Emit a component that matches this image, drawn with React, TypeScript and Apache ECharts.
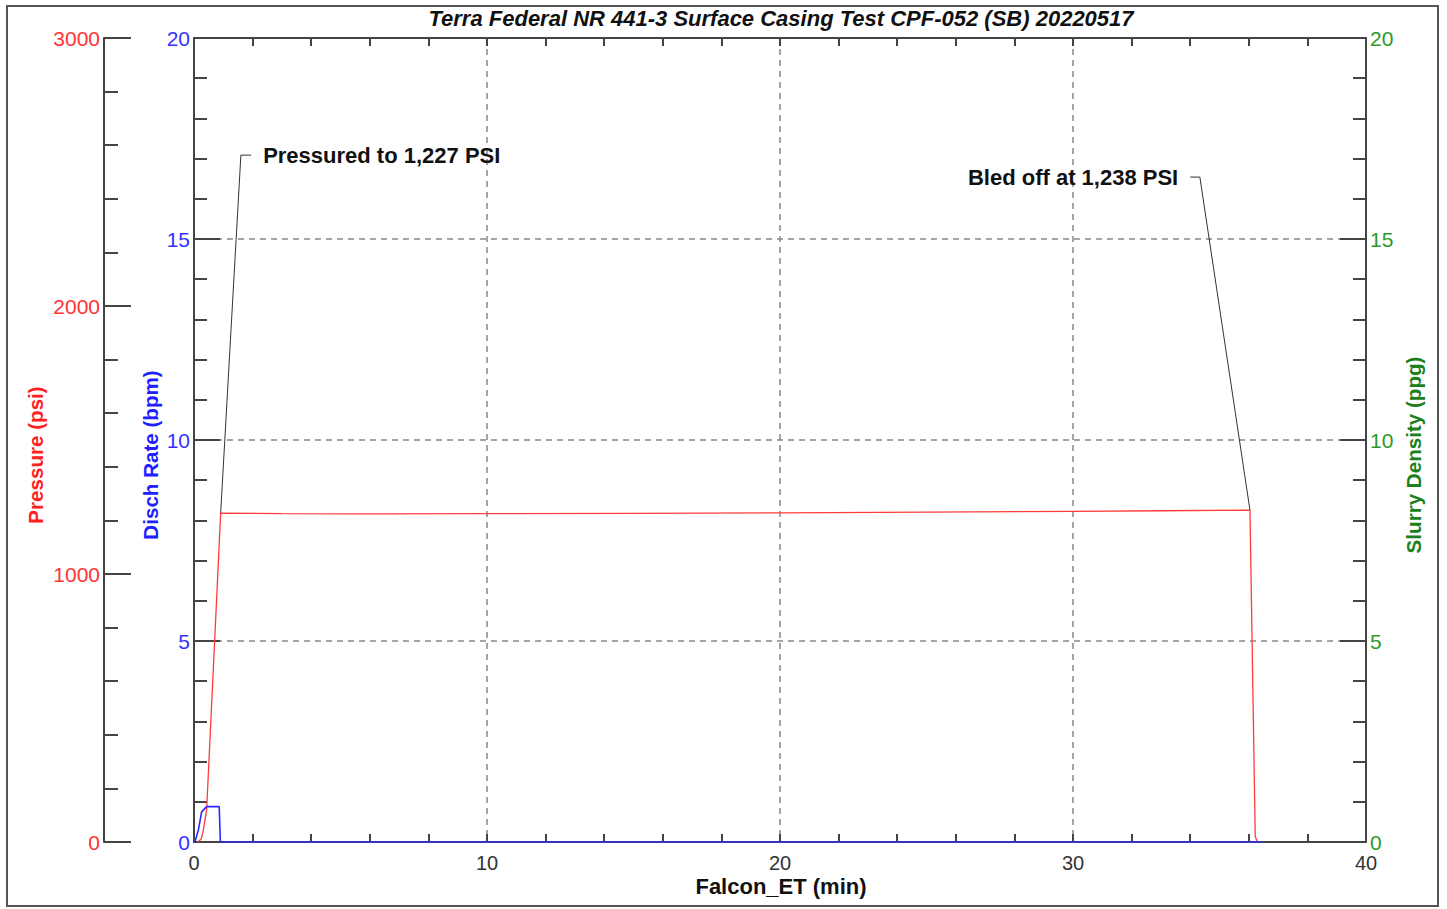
import React, { useEffect, useRef } from "react";
import * as echarts from "echarts";

const TITLE = "Terra Federal NR 441-3 Surface Casing Test CPF-052 (SB) 20220517";
const X_NAME = "Falcon_ET (min)";
const PRESSURE_NAME = "Pressure (psi)";
const RATE_NAME = "Disch Rate (bpm)";
const DENSITY_NAME = "Slurry Density (ppg)";

// Pressure (psi) vs time (min)
const pressureTime = [0.14, 0.25, 0.32, 0.43, 0.65, 0.91, 3, 6, 10, 15, 20, 25, 30, 33, 36.04, 36.22, 36.3];
const pressureValues = [0, 12, 45, 119, 623, 1227, 1225, 1224, 1225, 1226, 1228, 1231, 1234, 1236, 1238, 20, 0];

// Discharge rate (bpm) vs time (min)
const rateTime = [0, 0.03, 0.15, 0.26, 0.43, 0.86, 0.9, 36.45];
const rateValues = [0, 0, 0.3, 0.75, 0.88, 0.88, 0, 0];

// Annotations (pressure axis coordinates)
const annoText = ["Pressured to 1,227 PSI", "Bled off at 1,238 PSI"];
const annoPoint = [[0.91, 1227], [36.04, 1238]];
const annoElbow = [[1.6, 2563], [34.33, 2481]];
const annoEnd = [[1.95, 2563], [34.0, 2481]];
const annoSide = ["left", "right"];

const FONT = 'Arial, "Liberation Sans", sans-serif';
const AXIS_COLOR = "#444";

export default function App() {
  const ref = useRef<HTMLDivElement>(null);
  useEffect(() => {
    if (!ref.current) return;
    const chart = echarts.init(ref.current, null, { renderer: "svg" });

    const tickStyle = (len: number, minorLen: number, inside = true) => ({
      axisLine: { show: true, onZero: false, lineStyle: { color: AXIS_COLOR, width: 2 } },
      axisTick: { show: true, inside, length: len, lineStyle: { color: AXIS_COLOR, width: 2 } },
      minorTick: { show: true, splitNumber: 5, length: minorLen, lineStyle: { color: AXIS_COLOR, width: 2 } },
    });

    const plain = (v: number) => String(v);

    const pressureData = pressureTime.map((t, i) => [t, pressureValues[i]]);
    const rateData = rateTime.map((t, i) => [t, rateValues[i]]);

    const leaderSeries = annoText.map((_, i) => ({
      type: "line",
      xAxisIndex: 0,
      yAxisIndex: 1,
      data: [annoPoint[i], annoElbow[i], annoEnd[i]],
      symbol: "none",
      silent: true,
      lineStyle: { color: "#333", width: 1 },
      z: 3,
    }));

    chart.setOption({
      animation: false,
      backgroundColor: "#fff",
      grid: { left: 194, right: 81, top: 38, bottom: 67, containLabel: false },
      xAxis: [
        {
          type: "value",
          position: "bottom",
          min: 0,
          max: 40,
          interval: 10,
          ...tickStyle(8, 8),
          axisLabel: { color: "#333", fontSize: 20, fontFamily: FONT, margin: 11, formatter: plain },
          splitLine: { show: true, lineStyle: { color: "#888", width: 1.5, type: [6, 5] } },
        },
        {
          type: "value",
          position: "top",
          min: 0,
          max: 40,
          interval: 10,
          ...tickStyle(8, 8),
          axisLabel: { show: false },
          splitLine: { show: false },
        },
      ],
      yAxis: [
        {
          type: "value",
          position: "left",
          offset: 0,
          min: 0,
          max: 20,
          interval: 5,
          ...tickStyle(26, 13),
          axisLabel: { color: "#3333ff", fontSize: 21, fontFamily: FONT, margin: 4, formatter: plain },
          splitLine: { show: true, lineStyle: { color: "#888", width: 1.5, type: [6, 5] } },
        },
        {
          type: "value",
          position: "left",
          offset: 90,
          min: 0,
          max: 3000,
          interval: 1000,
          ...tickStyle(27, 14),
          axisLabel: { color: "#ff3333", fontSize: 21, fontFamily: FONT, margin: 4, formatter: plain },
          splitLine: { show: false },
        },
        {
          type: "value",
          position: "right",
          offset: 0,
          min: 0,
          max: 20,
          interval: 5,
          ...tickStyle(26, 13),
          axisLabel: { color: "#2a9a2a", fontSize: 21, fontFamily: FONT, margin: 4, formatter: plain },
          splitLine: { show: false },
        },
      ],
      series: [
        {
          type: "line",
          name: PRESSURE_NAME,
          xAxisIndex: 0,
          yAxisIndex: 1,
          data: pressureData,
          symbol: "none",
          lineStyle: { color: "#ff3b3b", width: 1.3 },
          z: 4,
        },
        ...leaderSeries,
        {
          type: "line",
          name: RATE_NAME,
          xAxisIndex: 0,
          yAxisIndex: 0,
          data: rateData,
          symbol: "none",
          lineStyle: { color: "#2a2aff", width: 1.6 },
          z: 5,
        },
      ],
    });

    const toPx = (p: number[]) =>
      chart.convertToPixel({ xAxisIndex: 0, yAxisIndex: 1 }, p) as number[];

    const annoGraphics = annoText.map((text, i) => {
      const end = toPx(annoEnd[i]);
      const left = annoSide[i] === "left";
      return {
        type: "text",
        x: left ? end[0] + 12 : end[0] - 12,
        y: end[1],
        style: {
          text,
          fill: "#111",
          font: `bold 22px ${FONT}`,
          textAlign: left ? "left" : "right",
          textVerticalAlign: "middle",
        },
        z: 10,
      };
    });

    const vTitle = (text: string, x: number, color: string) => ({
      type: "text",
      x,
      y: 455,
      rotation: Math.PI / 2,
      style: {
        text,
        fill: color,
        font: `bold 20.6px ${FONT}`,
        textAlign: "center",
        textVerticalAlign: "middle",
      },
    });

    chart.setOption({
      graphic: [
        {
          type: "rect",
          shape: { x: 7, y: 6, width: 1431, height: 900 },
          style: { fill: "none", stroke: "#555", lineWidth: 2 },
          silent: true,
          z: 0,
        },
        {
          type: "text",
          x: 781,
          y: 18,
          style: {
            text: TITLE,
            fill: "#111",
            font: `italic bold 22px ${FONT}`,
            textAlign: "center",
            textVerticalAlign: "middle",
          },
        },
        {
          type: "text",
          x: 781,
          y: 886,
          style: {
            text: X_NAME,
            fill: "#111",
            font: `bold 22px ${FONT}`,
            textAlign: "center",
            textVerticalAlign: "middle",
          },
        },
        vTitle(PRESSURE_NAME, 35, "#ff2020"),
        vTitle(RATE_NAME, 150, "#2020ff"),
        vTitle(DENSITY_NAME, 1413, "#1a801a"),
        ...annoGraphics,
      ],
    });

    return () => chart.dispose();
  }, []);

  return (
    <div
      ref={ref}
      style={{ position: "fixed", left: 0, top: 0, width: 1447, height: 909, background: "#fff" }}
    />
  );
}
